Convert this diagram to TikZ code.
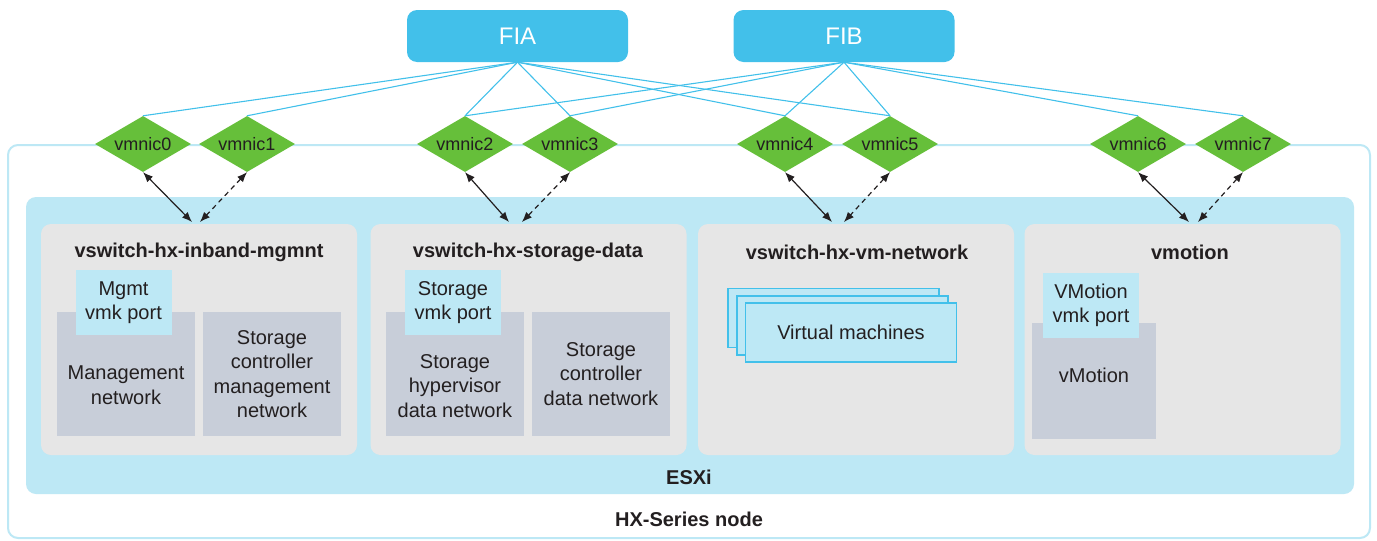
\documentclass[tikz,border=0pt]{standalone}
\usepackage{fontspec}
\setmainfont{Liberation Sans}
\usepackage{xcolor}
\usetikzlibrary{shapes,arrows.meta,positioning,calc}

\definecolor{fiblue}{RGB}{66,192,234}
\definecolor{nicgreen}{RGB}{102,191,58}
\definecolor{esxiblue}{RGB}{189,232,245}
\definecolor{swgray}{RGB}{230,230,230}
\definecolor{netgray}{RGB}{200,206,217}
\definecolor{txtdark}{RGB}{35,31,32}

\tikzset{
  fi/.style={rectangle, rounded corners=10pt, fill=fiblue, text=white, minimum width=221pt, minimum height=52pt, font=\fontsize{24}{28}\selectfont},
  nic/.style={diamond, fill=nicgreen, text=txtdark, minimum width=96pt, minimum height=56pt, inner sep=0pt, aspect=1.7, font=\fontsize{18}{20}\selectfont},
  uplink/.style={fiblue, line width=1.1pt},
  link/.style={txtdark, line width=1.2pt, {Latex[length=10pt,width=8pt]}-{Latex[length=10pt,width=8pt]}},
  standby/.style={link, dash pattern=on 5pt off 4pt},
  swbox/.style={rectangle, rounded corners=10pt, fill=swgray, minimum width=316pt, minimum height=231pt},
  swtitle/.style={text=txtdark, font=\bfseries\fontsize{20}{24}\selectfont},
  netbox/.style={rectangle, fill=netgray, minimum width=138pt, minimum height=124pt, text=txtdark, align=center, font=\fontsize{20}{24.5}\selectfont},
  vmkbox/.style={rectangle, fill=esxiblue, minimum width=96pt, minimum height=65pt, text=txtdark, align=center, font=\fontsize{20}{24.5}\selectfont},
  vmbox/.style={rectangle, fill=esxiblue, draw=fiblue, line width=1.5pt, minimum width=211pt, minimum height=59pt, text=txtdark, font=\fontsize{20}{24.5}\selectfont},
  lbl/.style={text=txtdark, align=center, font=\fontsize{20}{24.5}\selectfont},
}

\begin{document}
\begin{tikzpicture}[x=1pt,y=-1pt]
\useasboundingbox (0,0) rectangle (1377,541);

% node and host
\node[draw=esxiblue, line width=2pt, rounded corners=10pt, fill=white, minimum width=1362pt, minimum height=393pt] (hx) at (689,341.5) {};
\node[fill=esxiblue, rounded corners=10pt, minimum width=1328pt, minimum height=297pt] (esxi) at (690,345.5) {};
\node[swtitle] (esxilbl) at (689,477) {ESXi};
\node[swtitle] (hxlbl) at (689,519) {HX-Series node};

% vswitches
\node[swbox] (sw1) at (199,339.5) {};
\node[swbox] (sw2) at (528.5,339.5) {};
\node[swbox] (sw3) at (856,339.5) {};
\node[swbox] (sw4) at (1182.5,339.5) {};
\node[swtitle] (sw1lbl) at (199,252) {vswitch-hx-inband-mgmnt};
\node[swtitle] (sw2lbl) at (528,252) {vswitch-hx-storage-data};
\node[swtitle] (sw3lbl) at (857,252) {vswitch-hx-vm-network};
\node[swtitle] (sw4lbl) at (1190,252) {vmotion};

\node[netbox] (mgmtnet) at (126,374) {};
\node[lbl] (mgmtnetlbl) at (126,385) {Management\\network};
\node[netbox] (ctlmgmt) at (272,374) {Storage\\controller\\management\\network};
\node[netbox] (hypdata) at (455,374) {};
\node[lbl] (hypdatalbl) at (455,386) {Storage\\hypervisor\\data network};
\node[netbox] (ctldata) at (601,374) {Storage\\controller\\data network};
\node[netbox, minimum width=124pt, minimum height=116pt] (vmonet) at (1094,381) {};
\node[lbl] (vmonetlbl) at (1094,375) {vMotion};

\node[vmkbox] (mgmtvmk) at (123.5,302.5) {Mgmt\\vmk port};
\node[vmkbox] (stovmk) at (453,302.5) {Storage\\vmk port};
\node[vmkbox] (vmovmk) at (1091,305.5) {VMotion\\vmk port};

\node[vmbox] (vm1) at (833.5,318) {};
\node[vmbox] (vm2) at (842.5,325.5) {};
\node[vmbox] (vm3) at (851,332.5) {Virtual machines};

% fabric interconnects and uplinks
\node[fi] (fia) at (517.5,36) {FIA};
\node[fi] (fib) at (844,36) {FIB};

\node[nic] (nic0) at (143,144) {vmnic0};
\node[nic] (nic1) at (247,144) {vmnic1};
\node[nic] (nic2) at (465,144) {vmnic2};
\node[nic] (nic3) at (570,144) {vmnic3};
\node[nic] (nic4) at (785,144) {vmnic4};
\node[nic] (nic5) at (890,144) {vmnic5};
\node[nic] (nic6) at (1138,144) {vmnic6};
\node[nic] (nic7) at (1243,144) {vmnic7};

\draw[uplink] (fia.south) -- (nic0.north);
\draw[uplink] (fia.south) -- (nic1.north);
\draw[uplink] (fia.south) -- (nic2.north);
\draw[uplink] (fia.south) -- (nic3.north);
\draw[uplink] (fia.south) -- (nic4.north);
\draw[uplink] (fia.south) -- (nic5.north);
\draw[uplink] (fib.south) -- (nic2.north);
\draw[uplink] (fib.south) -- (nic3.north);
\draw[uplink] (fib.south) -- (nic4.north);
\draw[uplink] (fib.south) -- (nic5.north);
\draw[uplink] (fib.south) -- (nic6.north);
\draw[uplink] (fib.south) -- (nic7.north);

% vmnic to vswitch
\coordinate (in0) at (192,222);
\coordinate (in1) at (200,222);
\coordinate (in2) at (509,222);
\coordinate (in3) at (522,222);
\coordinate (in4) at (832,222);
\coordinate (in5) at (844,222);
\coordinate (in6) at (1189,222);
\coordinate (in7) at (1198,222);
\draw[link] (nic0.south) -- (in0);
\draw[standby] (nic1.south) -- (in1);
\draw[link] (nic2.south) -- (in2);
\draw[standby] (nic3.south) -- (in3);
\draw[link] (nic4.south) -- (in4);
\draw[standby] (nic5.south) -- (in5);
\draw[link] (nic6.south) -- (in6);
\draw[standby] (nic7.south) -- (in7);
\end{tikzpicture}
\end{document}
